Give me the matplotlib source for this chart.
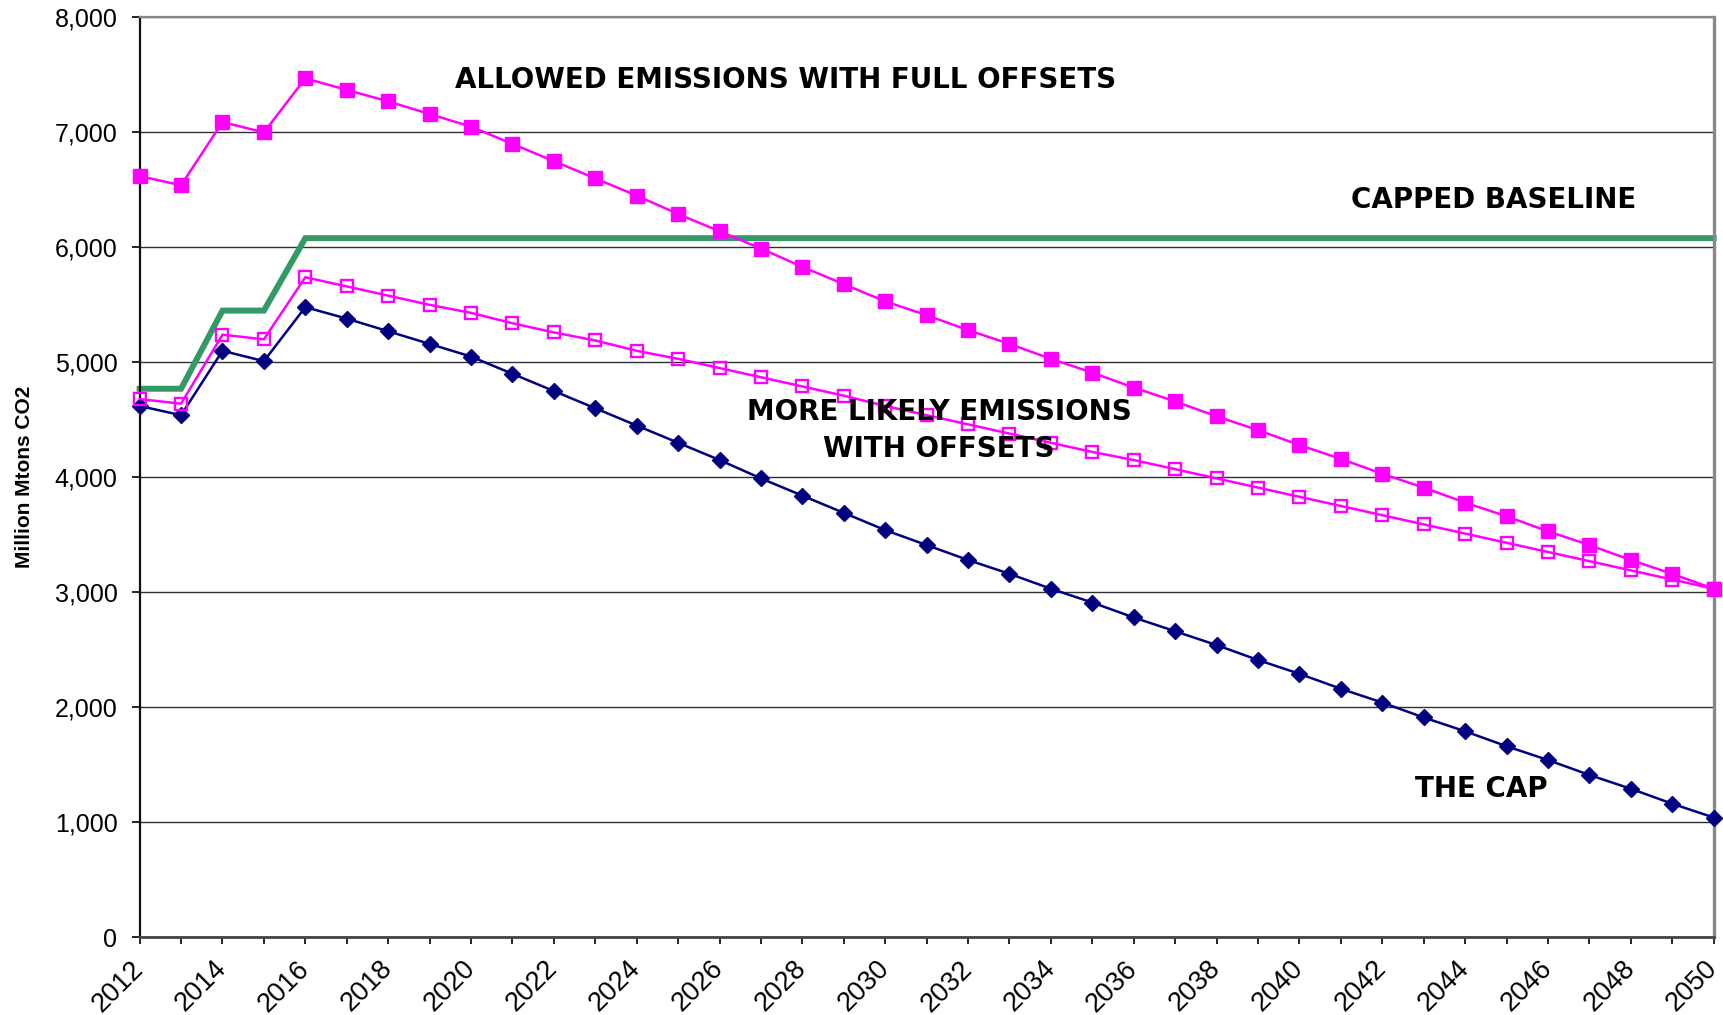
import matplotlib
matplotlib.use("Agg")
import matplotlib.pyplot as plt
import matplotlib.transforms as mtransforms
from matplotlib.ticker import MultipleLocator

plt.rcParams['font.family'] = ['Liberation Sans', 'DejaVu Sans']

years = list(range(2012, 2051))

the_cap = [4620, 4540, 5100, 5010, 5480, 5380, 5270, 5160, 5050, 4900,
           4750, 4600, 4450, 4300, 4150, 3990, 3840, 3690, 3540, 3410,
           3280, 3160, 3030, 2910, 2780, 2660, 2540, 2410, 2290, 2160,
           2040, 1910, 1790, 1660, 1540, 1410, 1290, 1160, 1040]

full_offsets = [6620, 6540, 7090, 7000, 7470, 7370, 7270, 7160, 7050, 6900,
                6750, 6600, 6450, 6290, 6140, 5990, 5830, 5680, 5530, 5410,
                5280, 5160, 5030, 4910, 4780, 4660, 4530, 4410, 4280, 4160,
                4030, 3910, 3780, 3660, 3530, 3410, 3280, 3160, 3030]

more_likely = [4680, 4640, 5240, 5200, 5740, 5660, 5580, 5500, 5430, 5340,
               5260, 5190, 5100, 5030, 4950, 4870, 4790, 4710, 4620, 4540,
               4460, 4380, 4300, 4220, 4150, 4070, 3990, 3910, 3830, 3750,
               3670, 3590, 3510, 3430, 3350, 3270, 3190, 3110, 3030]

capped_baseline = [4770, 4770, 5450, 5450, 6080, 6080, 6080, 6080, 6080, 6080,
                   6080, 6080, 6080, 6080, 6080, 6080, 6080, 6080, 6080, 6080,
                   6080, 6080, 6080, 6080, 6080, 6080, 6080, 6080, 6080, 6080,
                   6080, 6080, 6080, 6080, 6080, 6080, 6080, 6080, 6080]

x_ticks = list(range(2012, 2051, 2))
x_tick_labels = [str(y) for y in x_ticks]
y_ticks = [0, 1000, 2000, 3000, 4000, 5000, 6000, 7000, 8000]
y_tick_labels = ["0", "1,000", "2,000", "3,000", "4,000", "5,000",
                 "6,000", "7,000", "8,000"]

y_label = "Million Mtons CO2"
labels = {
    "ALLOWED EMISSIONS WITH FULL OFFSETS": (2027.6, 7455),
    "CAPPED BASELINE": (2044.7, 6410),
    "MORE LIKELY EMISSIONS\nWITH OFFSETS": (2031.3, 4405),
    "THE CAP": (2044.4, 1292),
}

MAGENTA = "#FF00FF"
NAVY = "#000080"
GREEN = "#339966"

fig = plt.figure(figsize=(17.24, 10.15), dpi=100)
ax = fig.add_axes([0.081, 0.0768, 0.913, 0.906])

ax.plot(years, capped_baseline, color=GREEN, lw=4.3, zorder=2,
        solid_joinstyle='miter', clip_on=False)
ax.plot(years, the_cap, color=NAVY, lw=1.8, marker='D', ms=7.8,
        mfc=NAVY, mec=NAVY, zorder=3, clip_on=False)
ax.plot(years, full_offsets, color=MAGENTA, lw=1.8, marker='s', ms=9.5,
        mfc=MAGENTA, mec=MAGENTA, zorder=4, clip_on=False)
ax.plot(years, more_likely, color=MAGENTA, lw=1.8, marker='s', ms=9,
        mfc='none', mec=MAGENTA, mew=1.7, zorder=5, clip_on=False)

ax.set_xlim(2012, 2050)
ax.set_ylim(0, 8000)
ax.set_yticks(y_ticks, labels=y_tick_labels, fontsize=18)
ax.set_xticks(x_ticks, labels=x_tick_labels, fontsize=19.5, rotation=45,
              ha='right', va='center', rotation_mode='anchor')
ax.xaxis.set_minor_locator(MultipleLocator(1))

# shift x tick labels slightly left so their right end sits at the tick
offset = mtransforms.ScaledTranslation(-6 / 100, 0, fig.dpi_scale_trans)
for lab in ax.get_xticklabels():
    lab.set_transform(lab.get_transform() + offset)

ax.grid(axis='y', color='#303030', lw=1.0, zorder=1)
ax.set_axisbelow(True)

ax.tick_params(axis='y', direction='out', length=6, width=1.2, pad=10,
               colors='black')
ax.tick_params(axis='x', which='both', direction='out', length=5, width=1.2,
               colors='black')
ax.tick_params(axis='x', which='major', pad=15)

ax.spines['left'].set_color('#111111')
ax.spines['left'].set_linewidth(1.6)
ax.spines['bottom'].set_color('#444444')
ax.spines['bottom'].set_linewidth(2.0)
ax.spines['top'].set_color('#888888')
ax.spines['top'].set_linewidth(1.6)
ax.spines['right'].set_color('#888888')
ax.spines['right'].set_linewidth(2.4)

ax.set_ylabel(y_label, fontsize=15, fontweight='bold', labelpad=15)

for txt, (x, y) in labels.items():
    ax.text(x, y, txt, fontsize=20, fontweight='bold', ha='center',
            va='center', color='black', zorder=6, linespacing=1.4,
            family=['DejaVu Sans'])

fig.savefig("out.png", dpi=100)
